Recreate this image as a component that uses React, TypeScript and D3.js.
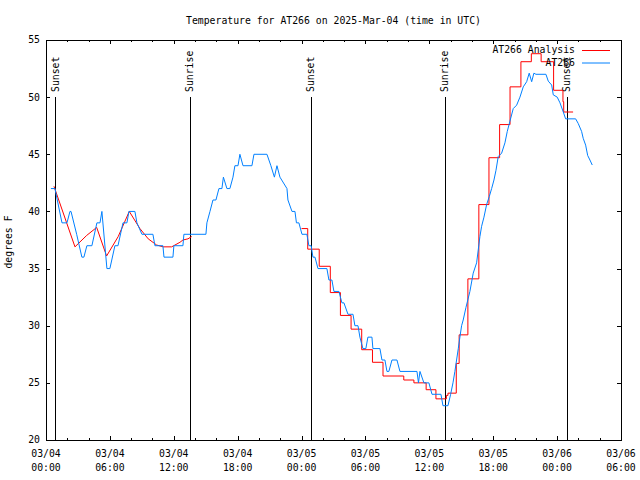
import React from 'react';
import * as d3 from 'd3';

const title = 'Temperature for AT266 on 2025-Mar-04 (time in UTC)';
const yLabel = 'degrees F';
const xTickHours = [0, 6, 12, 18, 24, 30, 36, 42, 48, 54];
const xTickDates = ['03/04', '03/04', '03/04', '03/04', '03/05', '03/05', '03/05', '03/05', '03/06', '03/06'];
const xTickTimes = ['00:00', '06:00', '12:00', '18:00', '00:00', '06:00', '12:00', '18:00', '00:00', '06:00'];
const xMinorHours = d3.range(0, 55, 2);
const yTicks = [20, 25, 30, 35, 40, 45, 50, 55];
const sunLabels = ['Sunset', 'Sunrise', 'Sunset', 'Sunrise', 'Sunset'];
const sunHours = [0.87, 13.52, 24.89, 37.47, 48.93];
const legendLabels = ['AT266 Analysis', 'AT266'];
const seriesColors = ['#ff0000', '#0080ff'];

// Observed temperature (hours since 03/04 00:00 UTC, deg F)
const observed: [number, number][] = [
  [0.46, 42], [0.84, 42], [1.5, 39], [1.97, 39], [2.25, 40], [2.35, 40], [2.88, 38], [3.37, 36], [3.56, 36],
  [3.84, 37], [4.31, 37], [4.78, 39], [5.07, 39], [5.25, 40], [5.72, 35], [6.0, 35], [6.47, 37], [6.76, 37],
  [7.23, 39], [7.6, 39], [7.79, 40], [8.35, 40], [8.54, 39], [9.01, 38], [10.04, 38], [10.23, 37], [10.98, 37],
  [11.08, 36], [11.92, 36], [12.01, 37], [12.86, 37], [12.95, 38], [15.02, 38],
  [15.11, 39], [15.4, 40], [15.68, 41], [15.96, 41], [16.24, 42], [16.52, 42], [16.66, 43], [16.99, 42],
  [17.27, 42], [17.56, 43], [17.74, 44], [18.03, 44], [18.21, 45], [18.5, 44], [19.34, 44], [19.53, 45],
  [20.75, 45], [21.12, 44], [21.45, 43], [21.69, 44], [21.97, 43], [22.63, 42], [22.72, 41], [23.1, 40],
  [23.38, 40], [23.52, 39], [23.75, 39], [24.04, 38], [24.5, 38], [24.69, 37], [24.9, 37], [25.07, 36],
  [25.26, 36], [25.54, 35], [26.38, 35], [26.57, 34], [26.85, 34], [27.04, 33], [27.51, 33], [27.79, 32],
  [27.98, 32], [28.36, 31], [28.83, 31], [29.01, 30], [29.3, 30], [29.48, 29], [29.76, 28], [30.04, 28],
  [30.23, 29], [30.61, 29], [30.7, 28], [31.36, 28], [31.55, 27], [31.83, 27], [32.02, 26], [32.2, 26],
  [32.49, 27], [32.96, 27], [33.24, 26], [34.84, 26], [34.98, 25], [35.12, 26], [35.49, 25], [35.96, 25],
  [36.25, 24], [37.09, 24], [37.28, 23], [37.75, 23],
  [38.0, 24], [38.22, 25], [38.4, 26], [38.56, 27], [38.72, 28], [38.87, 29], [39.03, 30], [39.18, 30.5],
  [39.44, 31.6], [39.81, 33], [40.12, 34.6], [40.44, 35.5], [40.75, 37.8], [40.91, 38.7], [41.13, 39.5],
  [41.38, 40.6], [41.63, 41.3], [41.85, 42], [42.07, 42.75], [42.26, 43.6], [42.47, 44.8], [42.79, 45.1],
  [43.1, 46], [43.32, 47], [43.57, 47.9], [43.88, 49], [44.2, 49.3], [44.51, 50], [44.82, 50.9],
  [45.14, 51.35], [45.38, 52.1], [45.61, 51.35], [45.82, 52.1], [46.01, 52], [46.95, 52], [47.17, 51.4],
  [47.49, 51.06], [47.64, 50.2], [48.01, 50], [48.27, 49.5], [48.58, 48.7], [48.8, 48.1], [49.74, 48.1],
  [49.98, 47.7], [50.3, 47], [50.45, 46.4], [50.68, 45.8], [50.87, 44.9], [51.08, 44.5], [51.3, 44.06],
];

// Analysis, first day (linear)
const analysisDay1: [number, number][] = [
  [0.75, 42.2], [2.72, 36.9], [3.82, 37.9], [4.76, 38.6], [5.69, 36.1], [6.78, 37.8], [7.82, 40.0],
  [8.82, 38.5], [9.6, 37.6], [10.39, 37.06], [11.01, 36.9], [11.8, 36.9], [12.58, 37.3], [12.86, 37.5],
  [13.33, 37.6], [13.68, 37.8],
];

// Analysis, second period (held values)
const analysisDay2: [number, number][] = [
  [24.0, 38.5], [24.58, 36.7], [25.66, 35.2], [26.7, 32.9], [27.65, 30.9], [28.65, 29.7], [29.65, 27.9],
  [30.66, 26.8], [31.65, 25.6], [33.6, 25.25], [34.55, 25.0], [35.7, 24.4], [36.62, 23.6], [37.6, 23.9],
  [37.75, 24.1], [38.53, 26.7], [38.8, 29.2], [39.62, 34.1], [40.65, 40.6], [41.6, 44.7], [42.6, 47.6],
  [43.58, 50.9], [44.6, 53.1], [45.58, 53.8], [46.5, 53.1], [47.67, 50.6], [48.55, 49.6], [48.62, 48.7],
  [49.5, 48.7],
];

const W = 640;
const H = 480;
const L = 46;
const R = 621;
const T = 40;
const B = 440;
const FONT = '"DejaVu Sans Mono", "Liberation Mono", monospace';
const FS = 9.8;

export default function App() {
  const x = d3.scaleLinear().domain([0, 54]).range([L, R]);
  const y = d3.scaleLinear().domain([20, 55]).range([B, T]);
  const px = (v: number) => Math.round(v) + 0.5;

  const lin = d3.line<[number, number]>().x(d => x(d[0])).y(d => y(d[1]));
  const step = d3.line<[number, number]>().x(d => x(d[0])).y(d => y(d[1])).curve(d3.curveStepAfter);

  return (
    <svg width={W} height={H} style={{ position: 'fixed', left: 0, top: 0, background: '#fff' }}
      fontFamily={FONT} fontSize={FS}>
      <rect x={0} y={0} width={W} height={H} fill="#fff" />
      <text x={(L + R) / 2} y={24} textAnchor="middle">{title}</text>
      <text transform={`translate(12,242) rotate(-90)`} textAnchor="middle">{yLabel}</text>

      {/* y ticks */}
      {yTicks.map(t => (
        <g key={'y' + t}>
          <line x1={L} x2={L + 4} y1={px(y(t))} y2={px(y(t))} stroke="#000" shapeRendering="crispEdges" />
          <line x1={R - 4} x2={R} y1={px(y(t))} y2={px(y(t))} stroke="#000" shapeRendering="crispEdges" />
          <text x={40} y={y(t)} dy="0.35em" textAnchor="end">{t}</text>
        </g>
      ))}

      {/* x minor ticks */}
      {xMinorHours.map(h => (
        <g key={'m' + h}>
          <line x1={px(x(h))} x2={px(x(h))} y1={B} y2={B - 2} stroke="#000" shapeRendering="crispEdges" />
          <line x1={px(x(h))} x2={px(x(h))} y1={T} y2={T + 2} stroke="#000" shapeRendering="crispEdges" />
        </g>
      ))}
      {/* x major ticks */}
      {xTickHours.map((h, i) => (
        <g key={'x' + h}>
          <line x1={px(x(h))} x2={px(x(h))} y1={B} y2={B - 4} stroke="#000" shapeRendering="crispEdges" />
          <line x1={px(x(h))} x2={px(x(h))} y1={T} y2={T + 4} stroke="#000" shapeRendering="crispEdges" />
          <text x={x(h)} y={457} textAnchor="middle">{xTickDates[i]}</text>
          <text x={x(h)} y={471} textAnchor="middle">{xTickTimes[i]}</text>
        </g>
      ))}

      {/* sun events */}
      {sunHours.map((h, i) => (
        <g key={'s' + i}>
          <line x1={px(x(h))} x2={px(x(h))} y1={97} y2={B} stroke="#000" shapeRendering="crispEdges" />
          <text transform={`translate(${x(h)},92) rotate(-90)`} dy="0.35em" textAnchor="start">{sunLabels[i]}</text>
        </g>
      ))}

      {/* data */}
      <path d={lin(analysisDay1) || ''} fill="none" stroke={seriesColors[0]} strokeWidth={1} />
      <path d={step(analysisDay2) || ''} fill="none" stroke={seriesColors[0]} strokeWidth={1} />
      <path d={lin(observed) || ''} fill="none" stroke={seriesColors[1]} strokeWidth={1} />

      {/* legend */}
      {legendLabels.map((lab, i) => (
        <g key={'l' + i}>
          <text x={575} y={50 + i * 12.5} dy="0.35em" textAnchor="end">{lab}</text>
          <line x1={582} x2={610} y1={50.5 + i * 12.5} y2={50.5 + i * 12.5} stroke={seriesColors[i]} strokeWidth={1} />
        </g>
      ))}

      {/* frame */}
      <rect x={L + 0.5} y={T + 0.5} width={R - L} height={B - T} fill="none" stroke="#000" shapeRendering="crispEdges" />
    </svg>
  );
}
